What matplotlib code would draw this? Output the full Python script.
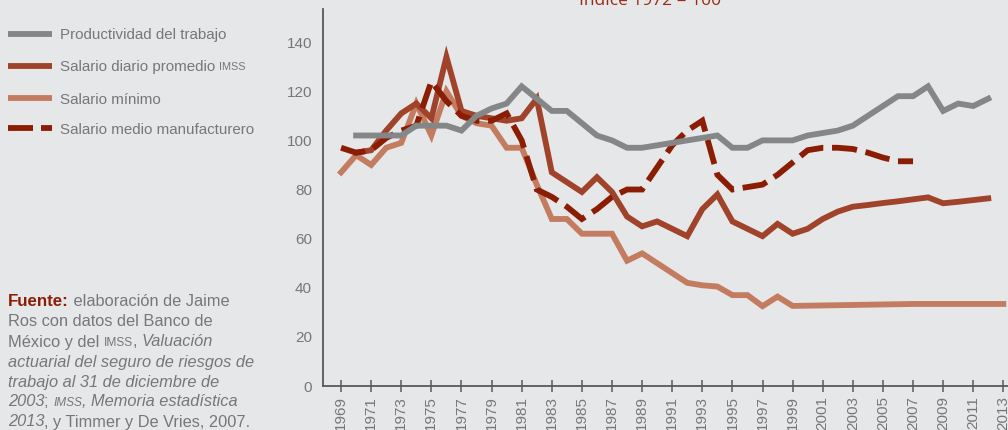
import matplotlib
matplotlib.use("Agg")
import matplotlib.pyplot as plt
from matplotlib.lines import Line2D

# Series (índice 1972 = 100)
anios_prod = list(range(1970, 2013))
productividad = [102, 102, 102, 102, 106, 106, 106, 104, 110, 113, 115, 122, 117, 112, 112,
                 107, 102, 100, 97, 97, 98, 99, 100, 101, 102, 97, 97, 100, 100, 100,
                 102, 103, 104, 106, 110, 114, 118, 118, 122, 112, 115, 114, 117]

anios_imss = list(range(1970, 2013))
salario_imss = [95, 96, 104, 111, 115, 109, 134, 112, 110, 109, 108, 109, 117, 87, 83,
                79, 85, 79, 69, 65, 67, 64, 61, 72, 78, 67, 64, 61, 66, 62,
                64, 68, 71, 73, 73.7, 74.5, 75.2, 76, 76.8, 74.4, 75, 75.7, 76.4]

anios_min = list(range(1969, 2014))
salario_minimo = [87, 94, 90, 97, 99, 115, 102, 120, 110, 107, 106, 97, 97, 82, 68,
                  68, 62, 62, 62, 51, 54, 50, 46, 42, 41, 40.5, 37, 37, 32.5, 36.4,
                  32.6, 32.7, 32.8, 32.9, 33.0, 33.1, 33.2, 33.3, 33.4, 33.4, 33.4, 33.4, 33.4, 33.4, 33.4]

anios_manuf = list(range(1969, 2008))
salario_manuf = [97, 95, 96, 101, 104, 106, 124, 116, 110, 108, 108, 111, 100, 80, 77,
                 73, 68, 72, 77, 80, 80, 89, 98, 104, 108, 86, 80, 81, 82, 86,
                 91, 96, 97, 97, 96.5, 95, 93, 91.5, 91.5]

anios_ticks = list(range(1969, 2014, 2))
etiquetas_legenda = ["Productividad del trabajo", "Salario diario promedio ",
                     "Salario mínimo", "Salario medio manufacturero"]

fondo = "#e6e7e8"
gris_txt = "#76777a"
c_prod = "#858688"
c_imss = "#a0432a"
c_min = "#c47c60"
c_manuf = "#8c1d05"
c_titulo = "#9b2a14"

W, H = 1008, 430
fig = plt.figure(figsize=(W / 100, H / 100), dpi=100, facecolor=fondo)
plt.rcParams["font.family"] = ["Liberation Sans", "DejaVu Sans"]

ax = fig.add_axes([323 / W, 1 - 386 / H, (W - 323) / W, (386 - 9) / H])
ax.set_facecolor(fondo)

lw = 4.2
dash = (4.3, 1.5)
ax.plot(anios_min, salario_minimo, color=c_min, lw=lw, solid_joinstyle="miter", clip_on=False)
ax.plot(anios_imss, salario_imss, color=c_imss, lw=lw, solid_joinstyle="miter")
ax.plot(anios_manuf, salario_manuf, color=c_manuf, lw=lw, dashes=dash, dash_capstyle="butt",
        dash_joinstyle="miter")
ax.plot(anios_prod, productividad, color=c_prod, lw=lw, solid_joinstyle="miter")

ax.set_xlim(1967.8, 2013.31)
ax.set_ylim(0, 153.5)
ax.set_yticks(range(0, 141, 20))
ax.set_xticks(anios_ticks)
ax.set_xticklabels([str(a) for a in anios_ticks], rotation=90)

for lado in ["top", "right"]:
    ax.spines[lado].set_visible(False)
for lado in ["left", "bottom"]:
    ax.spines[lado].set_color("#58595b")
    ax.spines[lado].set_linewidth(1.3)
ax.tick_params(axis="y", length=0, pad=8, labelsize=11, labelcolor=gris_txt)
ax.tick_params(axis="x", direction="inout", length=9, width=1.1, color="#58595b",
               pad=3, labelsize=11, labelcolor=gris_txt)

# título parcialmente fuera del marco
fig.text(650 / W, 1 - 5 / H, "Índice 1972 = 100", ha="center", va="baseline",
         fontsize=12.5, color=c_titulo, family=["Open Sans", "DejaVu Sans"])

# leyenda dibujada a mano
renderer = fig.canvas.get_renderer()
ys = [34, 66, 98, 128]
colores = [c_prod, c_imss, c_min, c_manuf]
for i, (y, c, txt) in enumerate(zip(ys, colores, etiquetas_legenda)):
    yf = 1 - y / H
    if i == 3:
        fig.add_artist(Line2D([8 / W, 33 / W], [yf, yf], color=c, lw=lw, solid_capstyle="butt"))
        fig.add_artist(Line2D([41 / W, 52 / W], [yf, yf], color=c, lw=lw, solid_capstyle="butt"))
    else:
        fig.add_artist(Line2D([8 / W, 52 / W], [yf, yf], color=c, lw=lw, solid_capstyle="butt"))
    t = fig.text(60 / W, yf, txt, va="center_baseline", ha="left", fontsize=10.9, color=gris_txt)
    if i == 1:
        bb = t.get_window_extent(renderer)
        fig.text(bb.x1 / W, yf, "IMSS", va="center_baseline", ha="left", fontsize=7.8, color=gris_txt)


def renglon(y_px, partes):
    x = 8
    for s, props in partes:
        kw = dict(fontsize=11.8, color=gris_txt)
        kw.update(props)
        t = fig.text(x / W, 1 - y_px / H, s, va="baseline", ha="left", **kw)
        x += t.get_window_extent(renderer).width


it = {"style": "italic"}
sc = {"fontsize": 8.6}
sci = {"fontsize": 8.6, "style": "italic"}
renglon(306.5, [("Fuente:", {"weight": "bold", "color": c_manuf, "fontsize": 12.2}),
                (" elaboración de Jaime", {})])
renglon(326.5, [("Ros con datos del Banco de", {})])
renglon(346.5, [("México y del ", {}), ("IMSS", sc), (", ", {}), ("Valuación", it)])
renglon(366.5, [("actuarial del seguro de riesgos de", it)])
renglon(386.5, [("trabajo al 31 de diciembre de", it)])
renglon(406.5, [("2003", it), ("; ", {}), ("IMSS", sci), (", Memoria estadística", it)])
renglon(426.5, [("2013", it), (", y Timmer y De Vries, 2007.", {})])

fig.savefig("out.png", dpi=100, facecolor=fondo)
